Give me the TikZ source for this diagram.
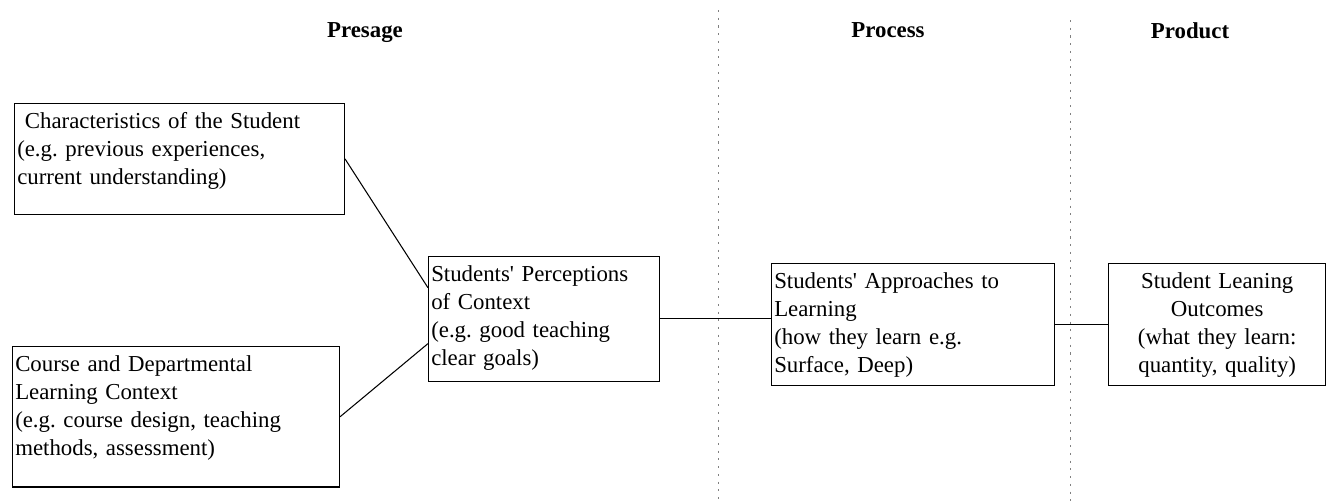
\documentclass[tikz,border=0pt]{standalone}
\usepackage{fontspec}
\setmainfont{Liberation Serif}
\frenchspacing

\tikzset{
  stage/.style={font=\fontsize{13}{15.9}\selectfont\bfseries, anchor=base},
  box/.style={draw, line width=0.7pt, anchor=north west, inner xsep=1.5pt,
    inner ysep=3pt, text height=11pt, align=left,
    font=\fontsize{13}{15.9}\selectfont},
  link/.style={line width=0.6pt},
  divider/.style={gray, line width=0.4pt, dash pattern=on 1.2pt off 3.2pt}
}

\begin{document}
\begin{tikzpicture}[x=0.02cm,y=-0.02cm]
      \useasboundingbox (0,0) rectangle (1328,501);

      %%%%%%%%%%%%%%%%%%%%%%%%%%%%%%%%%%%%%%%%%%%%%%%%%%%%%%%%%%%%%%%%%%%%%%%%%%%
      %%%%  stages
      \node[stage] (presage) at (365,37) {Presage};
      \node[stage] (process) at (888,37) {Process};
      \node[stage] (product) at (1190,38) {Product};

      \foreach \x/\y in {718/10,1070/20}
       {\draw[divider] (\x,\y) -- (\x,501);};

      %%%%%%%%%%%%%%%%%%%%%%%%%%%%%%%%%%%%%%%%%%%%%%%%%%%%%%%%%%%%%%%%%%%%%%%%%%%
      %%%%  boxes
      \node[box, text width=184.7pt, text depth=45.9pt] (student) at (14,103)
        {\ Characteristics of the Student\\(e.g. previous experiences,\\current understanding)};
      \node[box, text width=183pt, text depth=62.9pt] (course) at (12,346)
        {Course and Departmental\\Learning Context\\(e.g. course design, teaching\\methods, assessment)};
      \node[box, text width=128.5pt, text depth=53.9pt] (percep) at (428,256)
        {Students\textquotesingle\ Perceptions\\of Context\\(e.g. good teaching\\clear goals)};
      \node[box, text width=158pt, text depth=52.2pt] (approach) at (771,263)
        {Students\textquotesingle\ Approaches to\\Learning\\(how they learn e.g.\\Surface, Deep)};
      \node[box, text width=120.6pt, text depth=52.2pt, align=center] (outcome) at (1108,263)
        {Student Leaning\\Outcomes\\(what they learn:\\quantity, quality)};

      %%%%%%%%%%%%%%%%%%%%%%%%%%%%%%%%%%%%%%%%%%%%%%%%%%%%%%%%%%%%%%%%%%%%%%%%%%%
      %%%%  links
      \draw[link] (student.east) -- (percep.165);
      \draw[link] (course.east) -- (percep.192);
      \draw[link] (percep.east) -- (approach.west |- percep.east);
      \draw[link] (approach.east) -- (outcome.west);
    \end{tikzpicture}
\end{document}
